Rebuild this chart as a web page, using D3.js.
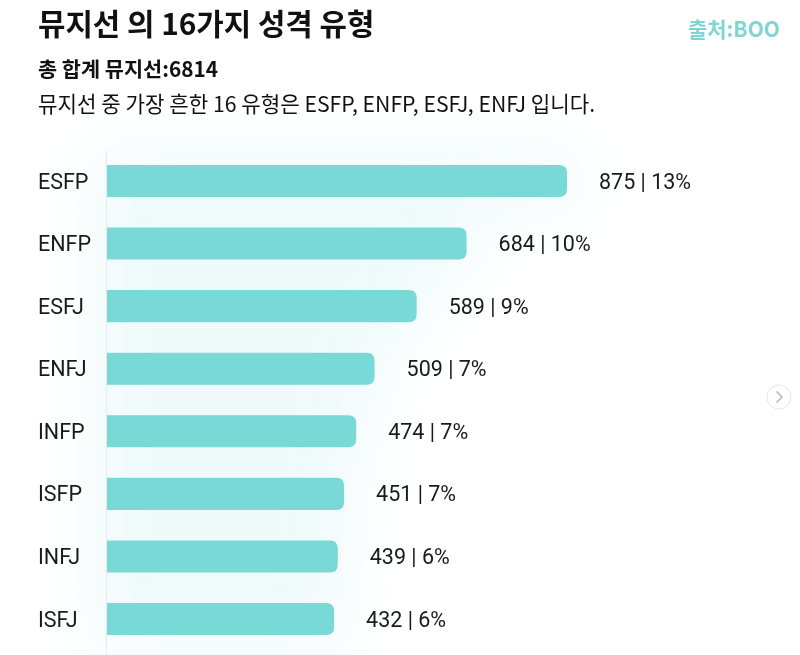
<!DOCTYPE html>
<html><head><meta charset="utf-8">
<script src="https://cdn.jsdelivr.net/npm/d3@7"></script>
<style>
html,body{margin:0;padding:0;background:#fff;}
svg{display:block;}
</style></head>
<body>
<svg id="chart" width="800" height="655"></svg>
<script>
const categories = ["ESFP","ENFP","ESFJ","ENFJ","INFP","ISFP","INFJ","ISFJ"];
const counts = [875, 684, 589, 509, 474, 451, 439, 432];
const percents = ["13%","10%","9%","7%","7%","7%","6%","6%"];
const titleText = "뮤지선 의 16가지 성격 유형";
const subtitleText = "총 합계 뮤지선:6814";
const descText = "뮤지선 중 가장 흔한 16 유형은 ESFP, ENFP, ESFJ, ENFJ 입니다.";
const sourceText = "출처:BOO";

const data = categories.map((c,i)=>({cat:c, value:counts[i], pct:percents[i]}));
const svg = d3.select("#chart");
const FONT = "Roboto, 'Noto Sans CJK KR', sans-serif";
const KFONT = "'Noto Sans CJK KR', Roboto, sans-serif";
const teal = "#78d9d6";

const y = d3.scaleBand().domain(categories).range([149.7, 650.3]).paddingInner(0.488).paddingOuter(0.244);
const x = d3.scaleLinear().domain([0, d3.max(counts)]).range([107, 567]);

const defs = svg.append("defs");
const blur = defs.append("filter").attr("id","glow").attr("x","-50%").attr("y","-50%").attr("width","200%").attr("height","200%");
blur.append("feGaussianBlur").attr("stdDeviation", 30);

function barPath(d, pad){
  const x0 = x(0) - pad, x1 = x(d.value) + pad, y0 = y(d.cat) - pad, h = y.bandwidth() + 2*pad;
  const r = Math.min(8 + pad, h/2);
  return `M${x0},${y0} H${x1-r} Q${x1},${y0} ${x1},${y0+r} V${y0+h-r} Q${x1},${y0+h} ${x1-r},${y0+h} H${x0} Z`;
}

// soft glow
svg.append("g").attr("filter","url(#glow)")
  .selectAll("path").data(data).join("path")
  .attr("d", d=>barPath(d, 14))
  .attr("fill", "#e6f7f8").attr("opacity", 0.6);

// axis line
svg.append("line").attr("x1", x(0)-0.5).attr("x2", x(0)-0.5).attr("y1", 150).attr("y2", 655)
  .attr("stroke", "#e8ecee").attr("stroke-width", 1.2);

// bars
svg.append("g").selectAll("path").data(data).join("path")
  .attr("d", d=>barPath(d, 0))
  .attr("fill", teal);

// y axis labels
const yAxis = d3.axisLeft(y).tickSize(0).tickPadding(0);
const ga = svg.append("g").attr("transform","translate(38,0)").call(yAxis);
ga.select(".domain").remove();
ga.selectAll("text").attr("text-anchor","start").attr("x",0).attr("dy","0.35em")
  .attr("font-family", FONT).attr("font-size", 21.5).attr("fill", "#1a1a1a");

// value labels
svg.append("g").selectAll("text").data(data).join("text")
  .attr("x", d=>x(d.value)+32).attr("y", d=>y(d.cat)+y.bandwidth()/2).attr("dy","0.35em")
  .attr("font-family", FONT).attr("font-size", 21.5).attr("fill", "#1a1a1a")
  .text(d=>`${d.value} | ${d.pct}`);

// titles
svg.append("text").attr("x", 38).attr("y", 35).attr("font-family", KFONT).attr("font-size", 29.8)
  .attr("font-weight", 700).attr("fill","#111").text(titleText);
svg.append("text").attr("x", 38).attr("y", 77).attr("font-family", KFONT).attr("font-size", 20.8)
  .attr("font-weight", 700).attr("fill","#111").text(subtitleText);
svg.append("text").attr("x", 38).attr("y", 112).attr("font-family", KFONT).attr("font-size", 21.2)
  .attr("font-weight", 400).attr("fill","#111").text(descText);
svg.append("text").attr("x", 780).attr("y", 37).attr("text-anchor","end").attr("font-family", KFONT).attr("font-size", 21)
  .attr("font-weight", 700).attr("fill","#7fd5d3").text(sourceText);

// next button
const btn = svg.append("g").attr("transform","translate(779,397)");
btn.append("circle").attr("r", 12).attr("fill","#fff").attr("stroke","#e6e6e6").attr("stroke-width",1);
btn.append("path").attr("d","M-2,-5 L3,0 L-2,5").attr("fill","none").attr("stroke","#c4c4c4").attr("stroke-width",1.8).attr("stroke-linecap","round");
</script>
</body></html>
